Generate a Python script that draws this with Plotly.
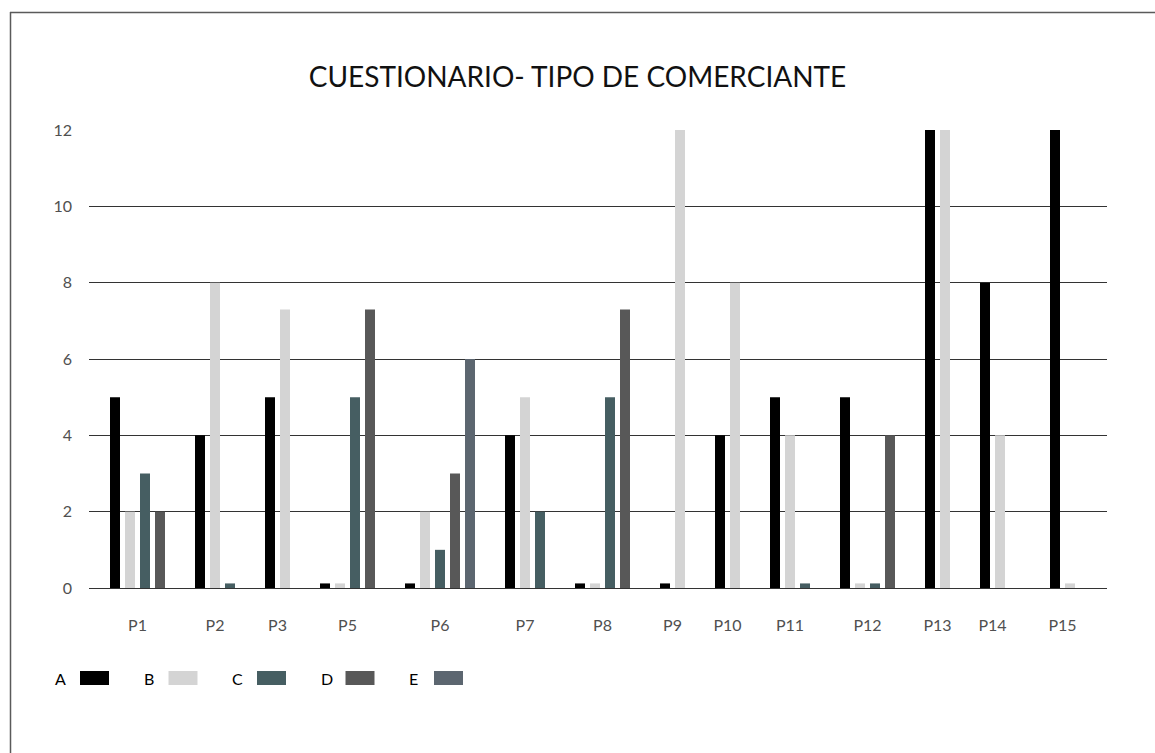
import plotly.graph_objects as go

# ---------------- data ----------------
categories = ["P1", "P2", "P3", "P5", "P6", "P7", "P8", "P9", "P10", "P11", "P12", "P13", "P14", "P15"]
series_names = ["A", "B", "C", "D", "E"]
A = [5, 4, 5, 0.12, 0.12, 4, 0.12, 0.12, 4, 5, 5, 12, 8, 12]
B = [2, 8, 7.3, 0.12, 2, 5, 0.12, 12, 8, 4, 0.12, 12, 4, 0.12]
C = [3, 0.12, None, 5, 1, 2, 5, None, None, 0.12, 0.12, None, 0, None]
D = [2, None, None, 7.3, 3, None, 7.3, None, None, None, 4, None, None, None]
E = [None, None, None, None, 6, None, None, None, None, None, None, None, None, None]
y_ticks = [0, 2, 4, 6, 8, 10, 12]

colors = ["#000000", "#d4d4d4", "#465e62", "#585858", "#5c6670"]
values = [A, B, C, D, E]

# ---------------- layout geometry ----------------
W, H = 1155, 753
PL, PR, PT, PB = 89, 1107, 130, 588      # plot area in pixels
PITCH = 15.0                              # px per bar slot
BAR_W = 10.0 / PITCH
GAP = 40.0 / PITCH                        # centre distance between groups
FIRST_PX = 115.0

xs = [[] for _ in series_names]
ys = [[] for _ in series_names]
centers = []
x = 0.0
for i, cat in enumerate(categories):
    present = [k for k in range(len(series_names)) if values[k][i] is not None]
    visible = []
    for k in present:
        xs[k].append(x)
        ys[k].append(values[k][i])
        if values[k][i] > 0:
            visible.append(x)
        x += 1
    last = x - 1
    centers.append((min(visible) + max(visible)) / 2)
    x = last + GAP

x_lo = -(FIRST_PX - PL) / PITCH
x_hi = x_lo + (PR - PL) / PITCH

fig = go.Figure()
for k, name in enumerate(series_names):
    fig.add_trace(go.Bar(x=xs[k], y=ys[k], width=BAR_W, name=name,
                         marker=dict(color=colors[k], line=dict(width=0)),
                         showlegend=False))


def px_x(p):
    return (p - PL) / (PR - PL)


def px_y(p):
    return (PB - p) / (PB - PT)


shapes = []
annotations = []
# manual legend (label before swatch)
for k, name in enumerate(series_names):
    tx = 53 + k * 88.5
    sx = tx + 27
    annotations.append(dict(text=name, x=px_x(tx), y=px_y(678), xref="paper", yref="paper",
                            xanchor="left", yanchor="middle", showarrow=False,
                            font=dict(family="Lato", size=16, color="#000000")))
    shapes.append(dict(type="rect", xref="paper", yref="paper",
                       x0=px_x(sx), x1=px_x(sx + 29), y0=px_y(671), y1=px_y(685),
                       fillcolor=colors[k], line=dict(width=0)))

# outer frame (top and left visible)
shapes.append(dict(type="line", xref="paper", yref="paper", x0=px_x(10.5), x1=px_x(10.5),
                   y0=px_y(12), y1=px_y(770), line=dict(color="#5a5a5a", width=1.5)))
shapes.append(dict(type="line", xref="paper", yref="paper", x0=px_x(10), x1=px_x(1170),
                   y0=px_y(12.5), y1=px_y(12.5), line=dict(color="#5a5a5a", width=1.5)))

fig.update_layout(
    width=W, height=H,
    margin=dict(l=PL, r=W - PR, t=PT, b=H - PB, pad=0),
    paper_bgcolor="white", plot_bgcolor="white",
    barmode="overlay",
    title=dict(text="CUESTIONARIO- TIPO DE COMERCIANTE", x=0.5, xref="container",
               xanchor="center", y=1 - 77 / H, yanchor="middle",
               font=dict(family="Lato", size=28, color="#111111")),
    xaxis=dict(range=[x_lo, x_hi], tickvals=centers, ticktext=categories,
               showgrid=False, zeroline=False, showline=False, ticks="",
               tickfont=dict(family="Lato", size=16, color="#505050"),
               ticklabelstandoff=26),
    yaxis=dict(range=[0, 12], tickvals=y_ticks, showgrid=True, gridcolor="#333333",
               gridwidth=1, zeroline=True, zerolinecolor="#333333", zerolinewidth=1,
               showline=False, ticks="",
               tickfont=dict(family="Lato", size=16, color="#505050"),
               ticklabelstandoff=16),
    shapes=shapes,
    annotations=annotations,
    font=dict(family="Lato"),
)

fig.write_html("out.html", config={"displayModeBar": False},
               post_script="document.body.style.margin='0px';document.body.style.overflow='hidden';")
